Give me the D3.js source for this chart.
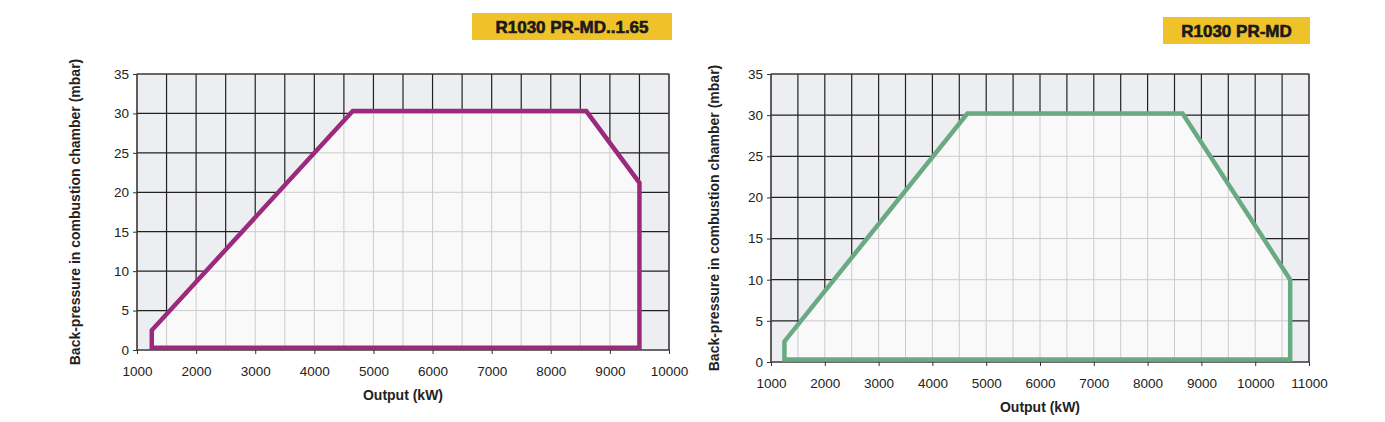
<!DOCTYPE html>
<html>
<head>
<meta charset="utf-8">
<script src="https://cdn.jsdelivr.net/npm/d3@7"></script>
<style>
body { margin: 0; background: #fff; font-family: "Liberation Sans", Arial, sans-serif; }
</style>
</head>
<body>
<svg id="chart" width="1385" height="422"></svg>
<script>
var yTicks = [0, 5, 10, 15, 20, 25, 30, 35];
var leftXTicks = [1000, 2000, 3000, 4000, 5000, 6000, 7000, 8000, 9000, 10000];
var rightXTicks = [1000, 2000, 3000, 4000, 5000, 6000, 7000, 8000, 9000, 10000, 11000];
var leftEnvelope = [[1250, 0.3], [1250, 2.5], [4650, 30.3], [8600, 30.3], [9500, 21.2], [9500, 0.3]];
var rightEnvelope = [[1250, 0.3], [1250, 2.5], [4650, 30.2], [8650, 30.2], [10650, 10], [10650, 0.3]];

var svg = d3.select("#chart");

function drawChart(cfg, id) {
  var x = d3.scaleLinear().domain(cfg.xDomain).range([cfg.left, cfg.right]);
  var y = d3.scaleLinear().domain([0, 35]).range([cfg.bottom, cfg.top]);
  var g = svg.append("g");
  var w = cfg.right - cfg.left, h = cfg.bottom - cfg.top;
  var xs = d3.range(cfg.xDomain[0], cfg.xDomain[1] + 1, 500);

  g.append("rect").attr("x", cfg.left).attr("y", cfg.top).attr("width", w).attr("height", h).attr("fill", "#eceef1");

  function grid(col, sw, clip) {
    var gg = g.append("g").attr("stroke", col).attr("stroke-width", sw);
    if (clip) gg.attr("clip-path", "url(#" + clip + ")");
    gg.selectAll("line.v").data(xs).enter().append("line")
      .attr("x1", function (d) { return x(d); }).attr("x2", function (d) { return x(d); })
      .attr("y1", cfg.top).attr("y2", cfg.bottom);
    gg.selectAll("line.h").data(yTicks).enter().append("line")
      .attr("y1", function (d) { return y(d); }).attr("y2", function (d) { return y(d); })
      .attr("x1", cfg.left).attr("x2", cfg.right);
  }
  grid("#222", 1.2, null);

  var line = d3.line().x(function (d) { return x(d[0]); }).y(function (d) { return y(d[1]); });
  svg.append("clipPath").attr("id", id).append("path").attr("d", line(cfg.env) + "Z");
  g.append("path").attr("d", line(cfg.env) + "Z").attr("fill", "#f9f9f9");
  grid("#cccccc", 1, id);

  g.append("rect").attr("x", cfg.left).attr("y", cfg.top).attr("width", w).attr("height", h)
    .attr("fill", "none").attr("stroke", "#444");

  g.append("path").attr("d", line(cfg.env) + "Z").attr("fill", "none")
    .attr("stroke", cfg.color).attr("stroke-width", 4.5).attr("stroke-linejoin", "miter");

  var xa = g.append("g").attr("transform", "translate(0," + cfg.bottom + ")")
    .call(d3.axisBottom(x).tickValues(cfg.xTicks).tickSize(4).tickPadding(12).tickFormat(d3.format("d")));
  var ya = g.append("g").attr("transform", "translate(" + cfg.left + ",0)")
    .call(d3.axisLeft(y).tickValues(yTicks).tickSize(4).tickPadding(4));
  [xa, ya].forEach(function (a) {
    a.select(".domain").remove();
    a.selectAll("text").attr("font-size", 13.5).attr("fill", "#222").attr("font-family", "Liberation Sans, Arial");
    a.selectAll("line").attr("stroke", "#333");
  });

  g.append("text").attr("x", (cfg.left + cfg.right) / 2).attr("y", cfg.bottom + 50)
    .attr("text-anchor", "middle").attr("font-weight", "bold").attr("font-size", 14).attr("fill", "#222")
    .text("Output (kW)");
  g.append("text").attr("transform", "translate(" + cfg.yLabelX + "," + (cfg.top + cfg.bottom) / 2 + ") rotate(-90)")
    .attr("text-anchor", "middle").attr("font-weight", "bold").attr("font-size", 14).attr("fill", "#222")
    .text("Back-pressure in combustion chamber (mbar)");

  g.append("rect").attr("x", cfg.box[0]).attr("y", cfg.box[1]).attr("width", cfg.box[2]).attr("height", 27).attr("fill", "#efc22a");
  g.append("text").attr("x", cfg.box[0] + cfg.box[2] / 2).attr("y", cfg.box[1] + 20)
    .attr("text-anchor", "middle").attr("font-weight", "bold").attr("font-size", 17).attr("fill", "#1a1a1a")
    .attr("stroke", "#1a1a1a").attr("stroke-width", 0.6)
    .attr("font-family", "Liberation Sans, Arial").text(cfg.title);
}

drawChart({ left: 137, right: 669, top: 74, bottom: 350, xDomain: [1000, 10000], xTicks: leftXTicks,
  env: leftEnvelope, color: "#9b2a7c", yLabelX: 80, box: [472, 13, 200], title: "R1030 PR-MD..1.65" }, "c1");
drawChart({ left: 771, right: 1309, top: 74, bottom: 362, xDomain: [1000, 11000], xTicks: rightXTicks,
  env: rightEnvelope, color: "#6aaa82", yLabelX: 719, box: [1163, 17, 147], title: "R1030 PR-MD" }, "c2");
</script>
</body>
</html>
